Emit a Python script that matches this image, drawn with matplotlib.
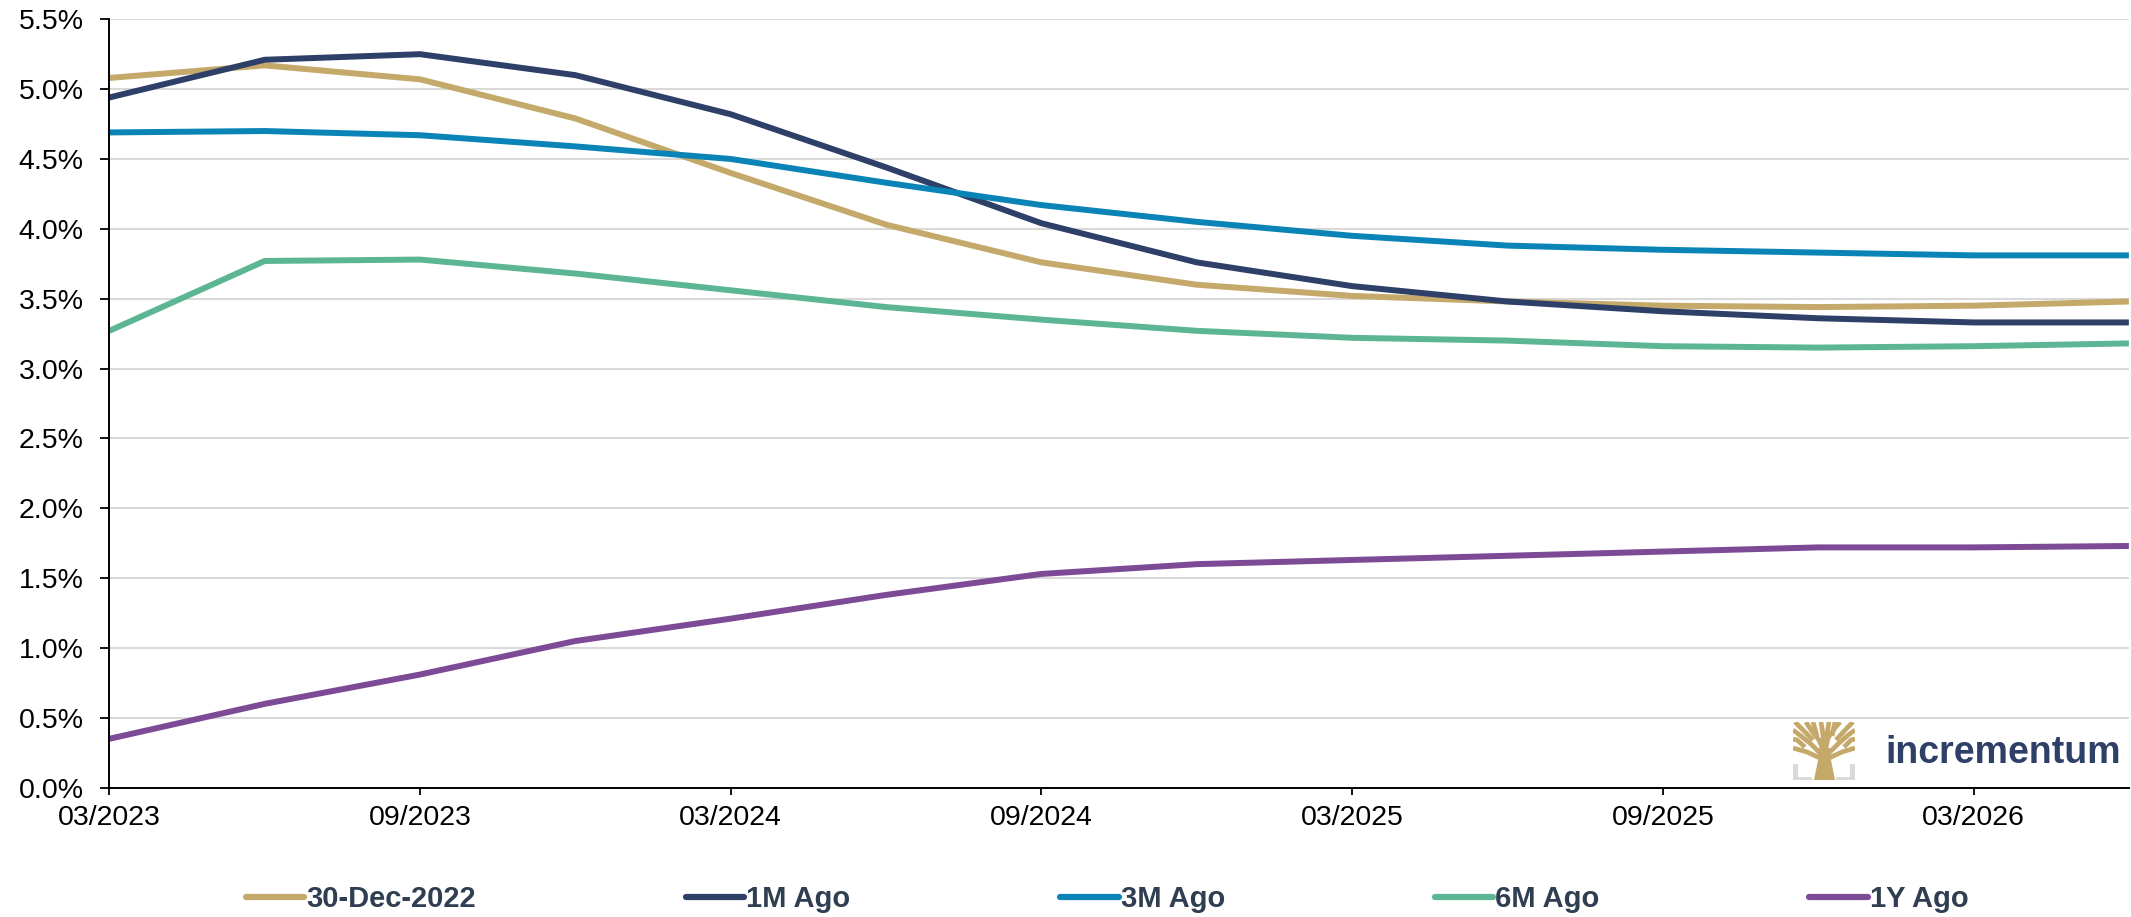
import numpy as np
import matplotlib
matplotlib.use("Agg")
import matplotlib.pyplot as plt
from matplotlib.patches import Polygon

plt.rcParams['font.family'] = ['Liberation Sans', 'DejaVu Sans']

# quarterly points, 03/2023 .. 06/2026
quarters = np.arange(14)
tick_pos = [0, 2, 4, 6, 8, 10, 12]
tick_labels = ['03/2023', '09/2023', '03/2024', '09/2024', '03/2025', '09/2025', '03/2026']

dec_2022 = [5.08, 5.17, 5.07, 4.79, 4.40, 4.03, 3.76, 3.60, 3.52, 3.48, 3.45, 3.44, 3.45, 3.48]
ago_1m = [4.94, 5.21, 5.25, 5.10, 4.82, 4.44, 4.04, 3.76, 3.59, 3.48, 3.41, 3.36, 3.33, 3.33]
ago_3m = [4.69, 4.70, 4.67, 4.59, 4.50, 4.33, 4.17, 4.05, 3.95, 3.88, 3.85, 3.83, 3.81, 3.81]
ago_6m = [3.27, 3.77, 3.78, 3.68, 3.56, 3.44, 3.35, 3.27, 3.22, 3.20, 3.16, 3.15, 3.16, 3.18]
ago_1y = [0.35, 0.60, 0.81, 1.05, 1.21, 1.38, 1.53, 1.60, 1.63, 1.66, 1.69, 1.72, 1.72, 1.73]

series = [("30-Dec-2022", dec_2022, '#C4A96A'),
          ("1M Ago", ago_1m, '#2E4068'),
          ("3M Ago", ago_3m, '#0A84B6'),
          ("6M Ago", ago_6m, '#5CB694'),
          ("1Y Ago", ago_1y, '#7D4A96')]

fig = plt.figure(figsize=(21.31, 9.17), dpi=100)
ax = fig.add_axes([0.0513, 0.141, 0.9477, 0.838])

for name, vals, col in series:
    ax.plot(quarters, vals, color=col, lw=4.3, label=name, solid_capstyle='butt')

ax.set_xlim(0, 13)
ax.set_ylim(0, 5.5)
ax.set_yticks(np.arange(0, 5.51, 0.5))
ax.set_yticklabels(['%.1f%%' % v for v in np.arange(0, 5.51, 0.5)])
ax.set_xticks(tick_pos)
ax.set_xticklabels(tick_labels)
ax.grid(axis='y', color='#D9D9D9', lw=1.5)
ax.set_axisbelow(True)
for s in ['top', 'right']:
    ax.spines[s].set_visible(False)
for s in ['left', 'bottom']:
    ax.spines[s].set_linewidth(1.4)
    ax.spines[s].set_color('black')
ax.tick_params(axis='y', length=6.5, width=1.3, pad=12, labelsize=20.5)
ax.tick_params(axis='x', length=5, width=1.3, pad=7.6, labelsize=20.5)

leg = fig.legend(loc='center', bbox_to_anchor=(0.5195, 0.0196), ncol=5, frameon=False,
                 prop={'weight': 'bold', 'size': 21}, handlelength=2.0,
                 handletextpad=0.07, columnspacing=7.2)
for t in leg.get_texts():
    t.set_color('#2F3E50')
for h in leg.get_lines():
    h.set_linewidth(4.5)
    h.set_solid_capstyle('round')

# logo: tree mark + wordmark
fig.text(1885 / 2131, 1 - 763 / 917, 'incrementum', fontsize=27, fontweight='bold',
         color='#2E4068', ha='left', va='baseline')

lx = fig.add_axes([1793 / 2131, 1 - 780 / 917, 62 / 2131, 58 / 917])
lx.set_xlim(0, 62)
lx.set_ylim(0, 58)
lx.axis('off')
tan = '#C4A96A'
grey = '#DADADA'
# corner brackets
lx.add_patch(Polygon([[0, 0], [19, 0], [19, 3.5], [4.5, 3.5], [4.5, 16], [0, 16]], color=grey, lw=0))
lx.add_patch(Polygon([[62, 0], [43, 0], [43, 3.5], [57.5, 3.5], [57.5, 16], [62, 16]], color=grey, lw=0))
# trunk
lx.add_patch(Polygon([[21, 0], [42, 0], [38, 20], [37, 32], [26, 32], [25, 20]], color=tan, lw=0))
# branches
branches = [[(31, 28), (26, 40), (18, 50), (13, 58)],
            [(32, 28), (35, 42), (42, 52), (47, 58)],
            [(31, 30), (30, 45), (28, 58)],
            [(32, 30), (34, 46), (36, 58)],
            [(28, 26), (18, 36), (8, 44), (0, 50)],
            [(35, 26), (45, 36), (54, 44), (62, 50)],
            [(27, 22), (14, 28), (0, 32)],
            [(36, 22), (49, 28), (62, 32)],
            [(20, 40), (8, 52), (2, 58)],
            [(43, 40), (54, 52), (60, 58)],
            [(12, 33), (4, 40), (0, 41)],
            [(51, 33), (58, 40), (62, 41)],
            [(24, 44), (20, 58)],
            [(39, 44), (42, 58)]]
for b in branches:
    bx, by = zip(*b)
    lx.plot(bx, by, color=tan, lw=3.4, solid_capstyle='butt', clip_on=True)

plt.savefig('out.png', dpi=100)
